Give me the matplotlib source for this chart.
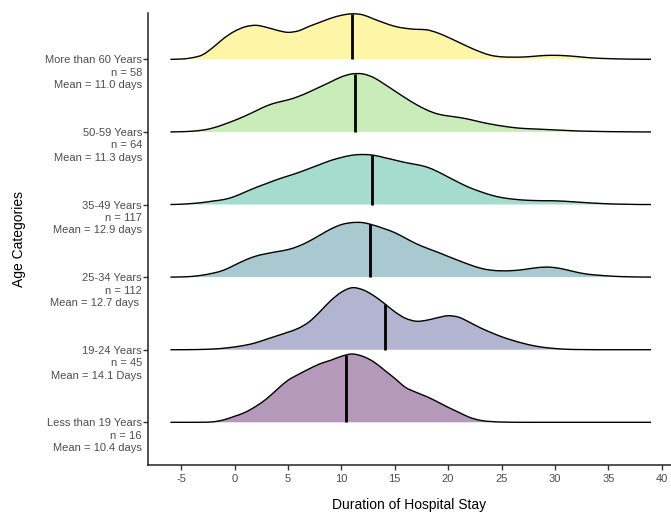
import numpy as np
import matplotlib
matplotlib.use("Agg")
import matplotlib.pyplot as plt
from matplotlib.path import Path
from matplotlib.patches import PathPatch

plt.rcParams['font.family'] = ['Liberation Sans', 'DejaVu Sans']

# evaluation grid of the densities (days)
days = np.arange(-6, 40)

# ridge labels, bottom to top
groups = ["Less than 19 Years", "19-24 Years", "25-34 Years",
          "35-49 Years", "50-59 Years", "More than 60 Years"]
counts = [16, 45, 112, 117, 64, 58]
mean_text = ["Mean = 10.4 days", "Mean = 14.1 Days", "Mean = 12.7 days ",
             "Mean = 12.9 days", "Mean = 11.3 days", "Mean = 11.0 days"]
means = [10.4, 14.1, 12.7, 12.9, 11.3, 11.0]

# density heights (relative units), one per day in `days`
dens_lt19 = [0, 0, 0, 0.1, 0.5, 2.5, 6, 10, 16, 23.5, 33, 42, 48, 53.5, 58.5, 62,
             66, 68.3, 66, 60.7, 52.5, 44, 35, 30, 25.7, 20.5, 15, 10, 5, 2,
             0.8, 0.3, 0.1, 0, 0, 0, 0, 0, 0, 0, 0, 0, 0, 0, 0, 0]
dens_19_24 = [0, 0, 0.1, 0.3, 0.7, 1.5, 2.8, 4.5, 7, 10.5, 14, 17.5, 21.5, 28, 38, 49,
              57.5, 62, 60, 54.3, 46.5, 38, 31.5, 28.5, 29.5, 32, 34, 32.5, 27.5, 22,
              17.3, 13, 9.5, 6.5, 4, 2.3, 1.2, 0.5, 0.2, 0.1, 0, 0, 0, 0, 0, 0]
dens_25_34 = [0, 0.2, 0.7, 2, 4, 7, 12, 17, 21, 23.5, 25.5, 27.5, 31, 36, 42, 48,
              52.5, 54.5, 54.5, 52, 48.5, 44.5, 39, 33.5, 29, 25, 20.7, 16.5, 12.5, 9,
              7, 6.3, 6.5, 7.5, 9, 10, 9.5, 7.5, 5, 3, 2, 1.2, 0.6, 0.3, 0.1, 0]
dens_35_49 = [0, 0.3, 1, 2, 3.5, 5, 8, 12.5, 17, 21, 25, 28.5, 32, 36, 40, 44,
              47, 49.3, 50, 49.3, 47, 44.5, 42, 40, 37.5, 33, 27.5, 22, 17, 13,
              9.5, 7, 5.5, 4.5, 4, 3.8, 3.7, 3.2, 2.5, 1.8, 1.2, 0.7, 0.4, 0.2, 0, 0]
dens_50_59 = [0, 0.2, 0.7, 1.8, 4, 7.5, 11.5, 16, 21, 26, 29.5, 32, 35.5, 40, 45, 50,
              55, 58, 58, 54.5, 48, 41, 34, 27.5, 22, 18, 16, 14.5, 12.5, 10,
              7.8, 6, 4.5, 3.5, 3, 2.5, 2, 1.5, 1, 0.7, 0.5, 0.3, 0.2, 0.1, 0, 0]
dens_gt60 = [0, 0.3, 1.5, 4.5, 12, 21, 28, 32.5, 34, 32, 29, 27, 28.5, 33, 37, 41,
             44, 45.5, 44.5, 40.5, 36.5, 33, 31, 30, 29.5, 26.5, 22, 17, 12, 7.5,
             4, 2.5, 2.2, 2.3, 3, 3.8, 4, 3.6, 2.8, 1.8, 1.1, 0.7, 0.4, 0.2, 0.1, 0]

densities = [dens_lt19, dens_19_24, dens_25_34, dens_35_49, dens_50_59, dens_gt60]

scale = 1 / 72.6   # relative height -> ridge spacing
colors = plt.cm.viridis(np.linspace(0, 1, len(groups)))


def smooth_path(xs, ys):
    # Catmull-Rom through the read points, drawn as cubic Bezier segments
    verts = [(xs[0], ys[0])]
    codes = [Path.MOVETO]
    n = len(xs)
    for k in range(n - 1):
        k0, k3 = max(k - 1, 0), min(k + 2, n - 1)
        c1 = (xs[k] + (xs[k + 1] - xs[k0]) / 6, ys[k] + (ys[k + 1] - ys[k0]) / 6)
        c2 = (xs[k + 1] - (xs[k3] - xs[k]) / 6, ys[k + 1] - (ys[k3] - ys[k]) / 6)
        verts += [c1, c2, (xs[k + 1], ys[k + 1])]
        codes += [Path.CURVE4] * 3
    return verts, codes


fig = plt.figure(figsize=(6.71, 5.13), dpi=100)
ax = fig.add_axes([148 / 671, 48 / 513, 523 / 671, 452 / 513])

# draw top ridge first so the lower ones sit on top
for i in reversed(range(len(groups))):
    h = np.array(densities[i]) * scale
    verts, codes = smooth_path(days, i + h)
    z = 2 * (6 - i)
    fill = Path(verts + [(days[-1], i), (days[0], i), (days[0], i)],
                codes + [Path.LINETO, Path.LINETO, Path.CLOSEPOLY])
    ax.add_patch(PathPatch(fill, facecolor=colors[i], alpha=0.4, lw=0, zorder=z))
    ax.add_patch(PathPatch(Path(verts, codes), facecolor='none', edgecolor='black',
                           lw=1.0, zorder=z + 1))
    top = np.interp(means[i], days, h)
    ax.plot([means[i], means[i]], [i, i + top], color='black', lw=2.0,
            solid_capstyle='butt', zorder=z + 1)

ax.set_xlim(-8.1, 40.87)
ax.set_ylim(-0.588, 5.638)
ax.set_xticks([-5, 0, 5, 10, 15, 20, 25, 30, 35, 40])
ax.set_xticklabels(["-5", "0", "5", "10", "15", "20", "25", "30", "35", "40"])
ax.set_yticks(range(len(groups)))
ax.set_yticklabels([])

for i in range(len(groups)):
    label = f"{groups[i]}\nn = {counts[i]}\n{mean_text[i]}"
    ax.annotate(label, xy=(0, i), xycoords=('axes fraction', 'data'),
                xytext=(-6, 4), textcoords='offset pixels',
                ha='right', va='top', fontsize=8, color='#4D4D4D',
                multialignment='right', linespacing=1.3)

for side in ['top', 'right']:
    ax.spines[side].set_visible(False)
for side in ['left', 'bottom']:
    ax.spines[side].set_linewidth(1.1)
    ax.spines[side].set_color('#222222')
ax.tick_params(axis='both', length=3.7, width=1.0, color='#333333',
               labelsize=8, labelcolor='#4D4D4D')
ax.tick_params(axis='x', pad=3)

ax.set_xlabel("Duration of Hospital Stay", fontsize=10, labelpad=10)
fig.text(19 / 671, 1 - 239 / 513, "Age Categories", rotation=90,
         ha='center', va='center', fontsize=10)

fig.savefig("out.png", dpi=100)
